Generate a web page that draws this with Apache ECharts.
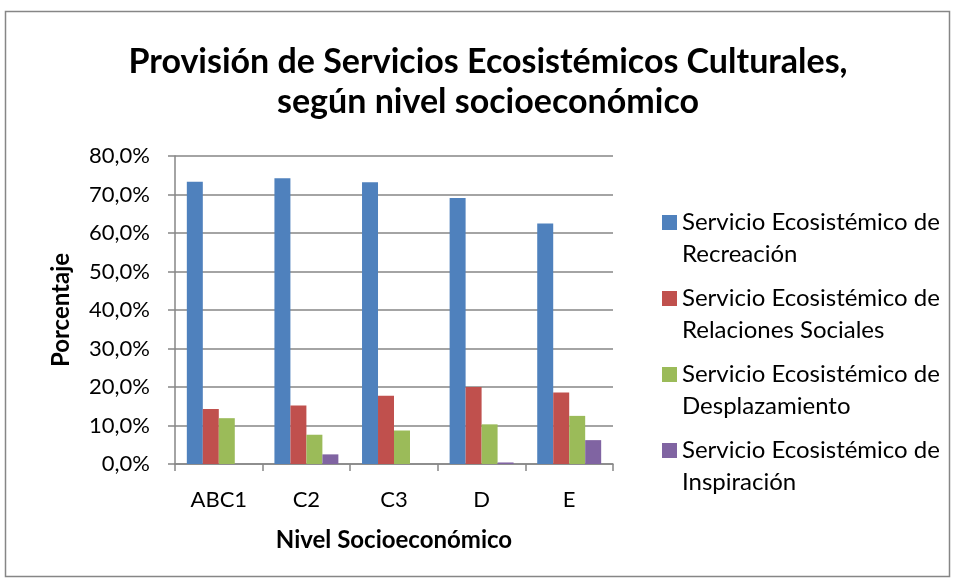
<!DOCTYPE html>
<html>
<head>
<meta charset="utf-8">
<script src="https://cdn.jsdelivr.net/npm/echarts@6/dist/echarts.min.js"></script>
<style>html,body{margin:0;padding:0;background:#fff;}#c{width:956px;height:579px;}</style>
</head>
<body>
<div id="c"></div>
<script>
const categories = ['ABC1', 'C2', 'C3', 'D', 'E'];
const seriesNames = [
  'Servicio Ecosistémico de\nRecreación',
  'Servicio Ecosistémico de\nRelaciones Sociales',
  'Servicio Ecosistémico de\nDesplazamiento',
  'Servicio Ecosistémico de\nInspiración'
];
const recreacion = [73.3, 74.2, 73.2, 69.1, 62.5];
const relaciones = [14.3, 15.2, 17.7, 20.0, 18.6];
const desplazamiento = [11.9, 7.6, 8.7, 10.3, 12.5];
const inspiracion = [0.0, 2.5, 0.0, 0.4, 6.2];
const colors = ['#4F81BD', '#C0504D', '#9BBB59', '#8064A2'];
const titleText = 'Provisión de Servicios Ecosistémicos Culturales,\nsegún nivel socioeconómico';
const yName = 'Porcentaje';
const xName = 'Nivel Socioeconómico';

const FONT = 'Lato';
const chart = echarts.init(document.getElementById('c'), null, {renderer: 'canvas'});
const data = [recreacion, relaciones, desplazamiento, inspiracion];
// legend icon: 15px square at the top of a 64px tall slot, so it lines up with the first text line
const legendIcon = 'path://M0,8.5L15,8.5L15,23.5L0,23.5Z M0,0L0.001,0Z M0,64L0.001,64Z';
chart.setOption({
  animation: false,
  backgroundColor: '#fff',
  textStyle: {fontFamily: FONT},
  graphic: [{
    type: 'rect', shape: {x: 5.5, y: 11.5, width: 944, height: 565},
    style: {fill: 'none', stroke: '#868686', lineWidth: 1.5}, silent: true
  }],
  title: {
    text: titleText, left: 483, top: 37, textAlign: 'center',
    textStyle: {fontFamily: FONT, fontSize: 34, fontWeight: 'bold', color: '#000', lineHeight: 40}
  },
  legend: {
    orient: 'vertical', left: 657, top: 201.5,
    itemWidth: 15, itemHeight: 64, itemGap: 12,
    icon: legendIcon,
    data: seriesNames,
    textStyle: {fontFamily: FONT, fontSize: 24, color: '#000', lineHeight: 32}
  },
  grid: {left: 175, right: 343, top: 156, bottom: 115, containLabel: false},
  xAxis: {
    type: 'category', data: categories,
    name: xName, nameLocation: 'middle', nameGap: 64,
    nameTextStyle: {fontFamily: FONT, fontSize: 24, fontWeight: 'bold', color: '#000'},
    axisLine: {lineStyle: {color: '#868686', width: 1.5}},
    axisTick: {show: true, length: 7, lineStyle: {color: '#868686', width: 1.5}},
    axisLabel: {fontFamily: FONT, fontSize: 22, color: '#000', margin: 25}
  },
  yAxis: {
    type: 'value', min: 0, max: 80, interval: 10,
    name: yName, nameLocation: 'middle', nameGap: 102,
    nameTextStyle: {fontFamily: FONT, fontSize: 24, fontWeight: 'bold', color: '#000'},
    axisLine: {show: true, lineStyle: {color: '#868686', width: 1.5}},
    axisTick: {show: true, length: 7, lineStyle: {color: '#868686', width: 1.5}},
    splitLine: {lineStyle: {color: '#868686', width: 1.5}},
    axisLabel: {fontFamily: FONT, fontSize: 22, color: '#000', margin: 25,
      formatter: v => v.toFixed(1).replace('.', ',') + '%'}
  },
  series: data.map((d, i) => ({
    name: seriesNames[i], type: 'bar', data: d,
    barGap: '0%', barCategoryGap: '27%',
    itemStyle: {color: colors[i]}
  }))
});
</script>
</body>
</html>
